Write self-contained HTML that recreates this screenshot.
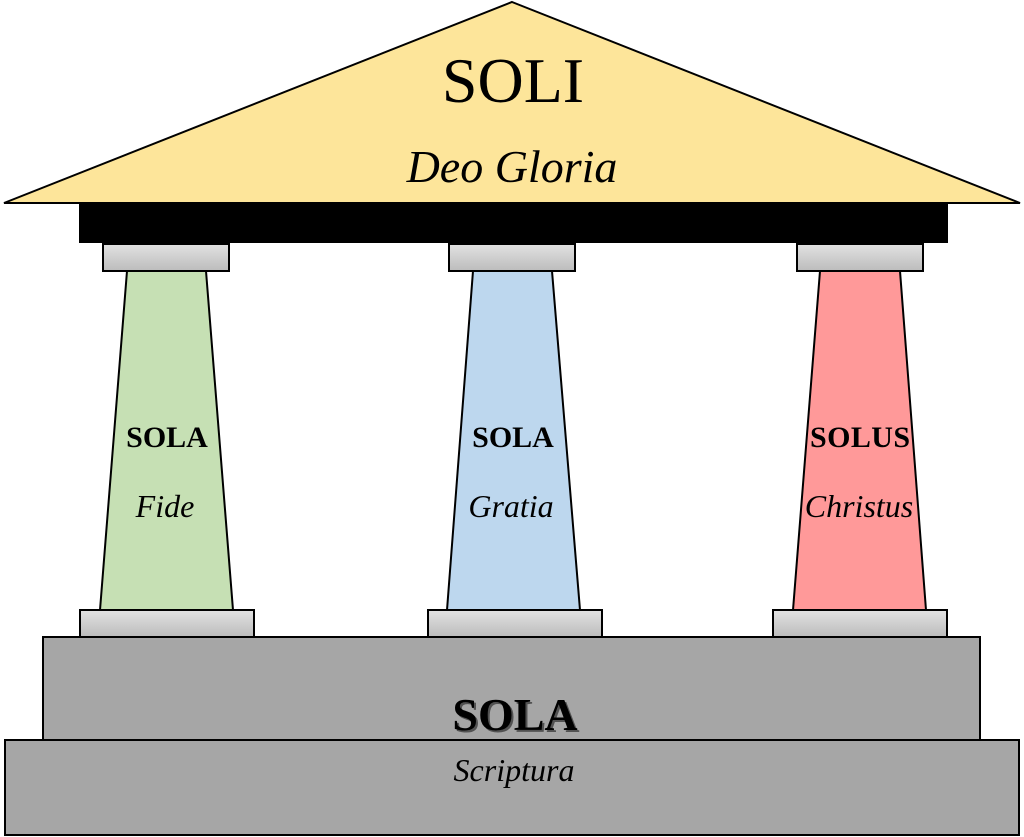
<!DOCTYPE html>
<html><head><meta charset="utf-8"><style>
html,body{margin:0;padding:0;background:#fff;}
svg{display:block;}
.s{font-family:"Liberation Serif",serif;fill:#000;}
.c{font-family:"Liberation Serif",serif;font-style:italic;fill:#000;}
</style></head><body>
<svg width="1024" height="837" viewBox="0 0 1024 837">
<defs>
<linearGradient id="g" x1="0" y1="0" x2="0" y2="1">
<stop offset="0" stop-color="#e2e2e2"/><stop offset="1" stop-color="#bcbcbc"/>
</linearGradient>
</defs>
<polygon points="512,2 1020,203 4,203" fill="#fde59a" stroke="#000" stroke-width="2"/>
<rect x="79" y="203" width="869" height="40" fill="#000"/>
<g stroke="#000" stroke-width="2">
<rect x="103" y="244" width="126" height="27" fill="url(#g)"/>
<rect x="449" y="244" width="126" height="27" fill="url(#g)"/>
<rect x="797" y="244" width="126" height="27" fill="url(#g)"/>
<polygon points="127,271 206,271 233,610 100,610" fill="#c6e0b4"/>
<polygon points="473,271 552,271 580,610 447,610" fill="#bdd7ee"/>
<polygon points="820,271 900,271 926,610 793,610" fill="#ff9999"/>
<rect x="80" y="610" width="174" height="27" fill="url(#g)"/>
<rect x="428" y="610" width="174" height="27" fill="url(#g)"/>
<rect x="773" y="610" width="174" height="27" fill="url(#g)"/>
<rect x="43" y="637" width="937" height="103" fill="#a6a6a6"/>
<rect x="5" y="740" width="1014" height="95" fill="#a6a6a6"/>
</g>
<text class="s" x="513" y="102" font-size="64" text-anchor="middle">SOLI</text>
<text class="c" x="512" y="182" font-size="46" text-anchor="middle">Deo Gloria</text>
<g font-weight="bold">
<text class="s" x="167" y="447" font-size="30" text-anchor="middle" font-weight="bold">SOLA</text>
<text class="s" x="513" y="447" font-size="30" text-anchor="middle" font-weight="bold">SOLA</text>
<text class="s" x="860" y="447" font-size="30" text-anchor="middle" font-weight="bold" textLength="100">SOLUS</text>
</g>
<text class="c" x="165" y="517" font-size="32" text-anchor="middle">Fide</text>
<text class="c" x="511" y="517" font-size="32" text-anchor="middle">Gratia</text>
<text class="c" x="859" y="517" font-size="32" text-anchor="middle">Christus</text>
<text class="s" x="517" y="732" font-size="46" text-anchor="middle" font-weight="bold" fill="#555" opacity="0.5">SOLA</text>
<text class="s" x="515" y="730" font-size="46" text-anchor="middle" font-weight="bold">SOLA</text>
<text class="c" x="514" y="781" font-size="32" text-anchor="middle">Scriptura</text>
</svg>
</body></html>
